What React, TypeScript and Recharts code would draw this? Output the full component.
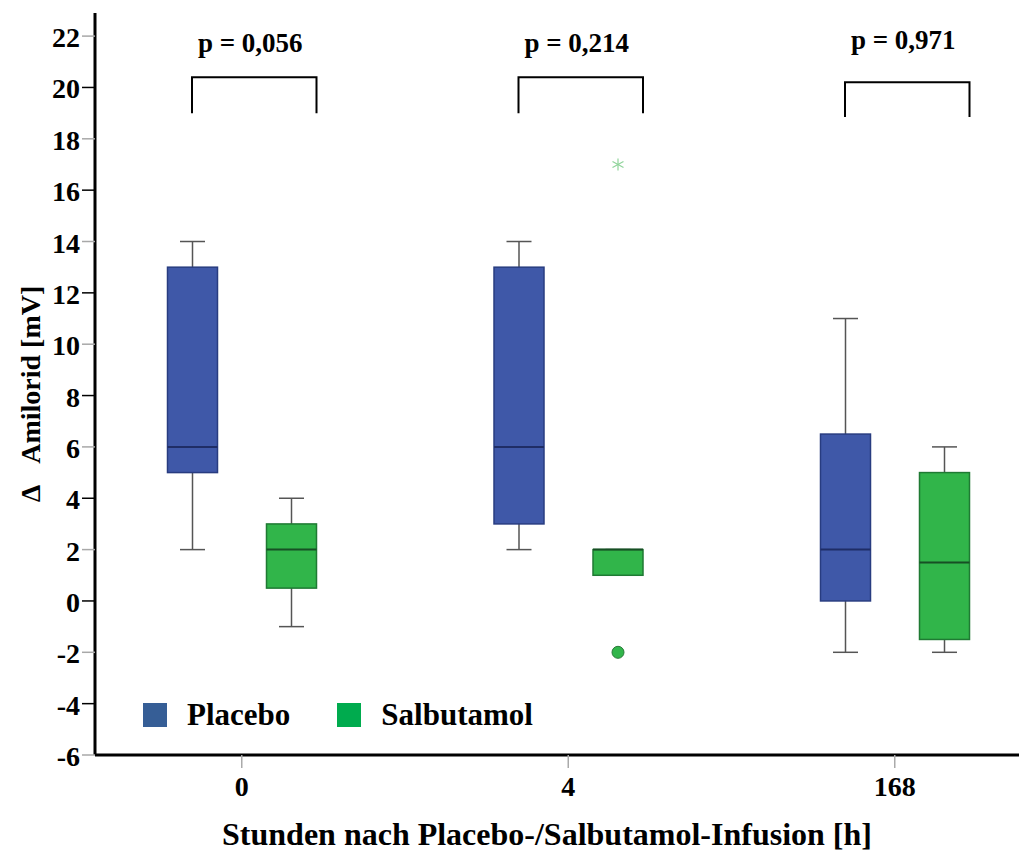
import { Bar, BarChart, Label, Legend, XAxis, YAxis } from "recharts";

// hours after infusion
const timepoints = ["0", "4", "168"];

// box-plot statistics per timepoint (delta amiloride, mV)
const placeboMin = [2, 2, -2];
const placeboQ1 = [5, 3, 0];
const placeboMedian = [6, 6, 2];
const placeboQ3 = [13, 13, 6.5];
const placeboMax = [14, 14, 11];

const salbutamolMin = [-1, 1, -2];
const salbutamolQ1 = [0.5, 1, -1.5];
const salbutamolMedian = [2, 2, 1.5];
const salbutamolQ3 = [3, 2, 5];
const salbutamolMax = [4, 2, 6];
const salbutamolOutliers = [[], [-2], []];
const salbutamolExtremes = [[], [17], []];

// significance brackets and their p labels (baseline height in mV units)
const pLabels = ["p = 0,056", "p = 0,214", "p = 0,971"];
const bracketLow = [19, 19, 18.85];
const bracketHigh = [20.4, 20.4, 20.2];
const pLabelBase = [21.38, 21.38, 21.5];

const yTicks = [-6, -4, -2, 0, 2, 4, 6, 8, 10, 12, 14, 16, 18, 20, 22];

const serif = '"Liberation Serif", "Times New Roman", serif';

const palette: Record<string, { fill: string; stroke: string; median: string; legend: string }> = {
  Placebo: { fill: "#3f58a8", stroke: "#283c80", median: "#1f2d66", legend: "#365e96" },
  Salbutamol: { fill: "#31b54a", stroke: "#1f7a33", median: "#174f24", legend: "#00ab4e" },
};

interface Stats {
  min: number;
  q1: number;
  median: number;
  q3: number;
  max: number;
  outliers: number[];
  extremes: number[];
}

const data = timepoints.map((time, i) => ({
  time,
  placebo: {
    min: placeboMin[i],
    q1: placeboQ1[i],
    median: placeboMedian[i],
    q3: placeboQ3[i],
    max: placeboMax[i],
    outliers: [],
    extremes: [],
  } as Stats,
  salbutamol: {
    min: salbutamolMin[i],
    q1: salbutamolQ1[i],
    median: salbutamolMedian[i],
    q3: salbutamolQ3[i],
    max: salbutamolMax[i],
    outliers: salbutamolOutliers[i],
    extremes: salbutamolExtremes[i],
  } as Stats,
  bracket: { low: bracketLow[i], high: bracketHigh[i], label: pLabelBase[i] },
  pLabel: pLabels[i],
}));

// full vertical extent of one box incl. outliers -> used as ranged bar value
function span(s: Stats): [number, number] {
  return [
    Math.min(s.min, ...s.outliers, ...s.extremes),
    Math.max(s.max, ...s.outliers, ...s.extremes),
  ];
}

function BoxShape(props: any) {
  const { x, y, width, height, payload, group } = props;
  const s: Stats = payload[group === "Placebo" ? "placebo" : "salbutamol"];
  const c = palette[group];
  const [lo, hi] = span(s);
  const top = Math.min(y, y + height);
  const bottom = Math.max(y, y + height);
  const py = (v: number) => bottom - ((v - lo) / (hi - lo)) * (bottom - top);
  const cx = x + width / 2;
  const cap = width / 4;

  return (
    <g>
      <line x1={cx} x2={cx} y1={py(s.max)} y2={py(s.min)} stroke="#555" strokeWidth={1.5} />
      <line x1={cx - cap} x2={cx + cap} y1={py(s.max)} y2={py(s.max)} stroke="#555" strokeWidth={1.5} />
      <line x1={cx - cap} x2={cx + cap} y1={py(s.min)} y2={py(s.min)} stroke="#555" strokeWidth={1.5} />
      <rect
        x={x}
        y={py(s.q3)}
        width={width}
        height={py(s.q1) - py(s.q3)}
        fill={c.fill}
        stroke={c.stroke}
        strokeWidth={1.5}
      />
      <line x1={x} x2={x + width} y1={py(s.median)} y2={py(s.median)} stroke={c.median} strokeWidth={2} />
      {s.outliers.map((v, k) => (
        <circle key={`o${k}`} cx={cx} cy={py(v)} r={6} fill={c.fill} stroke="#2a7a3a" strokeWidth={1} />
      ))}
      {s.extremes.map((v, k) => (
        <g key={`e${k}`} stroke="#8fd49a" strokeWidth={1.2}>
          <line x1={cx} x2={cx} y1={py(v) - 6} y2={py(v) + 6} />
          <line x1={cx - 5.5} x2={cx + 5.5} y1={py(v) - 3} y2={py(v) + 3} />
          <line x1={cx - 5.5} x2={cx + 5.5} y1={py(v) + 3} y2={py(v) - 3} />
        </g>
      ))}
    </g>
  );
}

// bar spans bracket foot .. label baseline; bracket top and text placed inside that range
function BracketShape(props: any) {
  const { x, y, width, height, payload } = props;
  const b = payload.bracket;
  const top = Math.min(y, y + height);
  const bottom = Math.max(y, y + height);
  const py = (v: number) => bottom - ((v - b.low) / (b.label - b.low)) * (bottom - top);
  return (
    <g>
      <path
        d={`M${x},${bottom} V${py(b.high)} H${x + width} V${bottom}`}
        fill="none"
        stroke="#000"
        strokeWidth={2}
      />
      <text
        x={x + width / 2 - 4}
        y={top}
        textAnchor="middle"
        fontFamily={serif}
        fontWeight={700}
        fontSize={27}
        fill="#000"
      >
        {payload.pLabel}
      </text>
    </g>
  );
}

function YTick(props: any) {
  const { x, y, payload } = props;
  const v = payload.value as number;
  return (
    <g>
      <line x1={x + 2} x2={x + 15} y1={y} y2={y} stroke={v % 4 === 0 ? "#000" : "#a8a8a8"} strokeWidth={1.5} />
      <text x={x} y={y} dy={11} textAnchor="end" fontFamily={serif} fontWeight={700} fontSize={28} fill="#000">
        {v}
      </text>
    </g>
  );
}

function YTitle(props: any) {
  const { viewBox } = props;
  const cx = viewBox.x + 22;
  const cy = viewBox.y + viewBox.height / 2 + 10;
  return (
    <text
      x={cx}
      y={cy}
      transform={`rotate(-90, ${cx}, ${cy})`}
      textAnchor="middle"
      dominantBaseline="central"
      fontFamily={serif}
      fontWeight={700}
      fontSize={28}
      fill="#000"
    >
      {"Δ\u00a0\u00a0\u00a0Amilorid [mV]"}
    </text>
  );
}

function XTitle(props: any) {
  const { viewBox } = props;
  return (
    <text
      x={viewBox.x + viewBox.width / 2 - 14}
      y={viewBox.y + 90}
      textAnchor="middle"
      fontFamily={serif}
      fontWeight={700}
      fontSize={32}
      fill="#000"
    >
      Stunden nach Placebo-/Salbutamol-Infusion [h]
    </text>
  );
}

function LegendContent(props: any) {
  const items = (props.payload ?? []).filter((e: any) => palette[e.value]);
  return (
    <div style={{ display: "flex", alignItems: "center", fontFamily: serif, fontWeight: 700, fontSize: 31 }}>
      {items.map((e: any) => (
        <div key={e.value} style={{ display: "flex", alignItems: "center", marginRight: 47 }}>
          <span
            style={{ width: 24, height: 24, background: palette[e.value].legend, marginRight: 20, display: "inline-block" }}
          />
          {e.value}
        </div>
      ))}
    </div>
  );
}

export default function App() {
  return (
    <div style={{ width: 1019, height: 844, background: "#fff" }}>
      <BarChart
        width={1019}
        height={844}
        data={data}
        margin={{ top: 5, right: 0, bottom: 0, left: 0 }}
        barGap={49}
      >
        <XAxis
          dataKey="time"
          height={97}
          padding={{ left: -16.5, right: -31 }}
          axisLine={{ stroke: "#000", strokeWidth: 3 }}
          tickLine={{ stroke: "#aaa", strokeWidth: 1.5 }}
          tickSize={13}
          tickMargin={8}
          tick={{ fill: "#000", fontSize: 28, fontWeight: 700, fontFamily: serif }}
        >
          <Label content={<XTitle />} />
        </XAxis>
        <XAxis xAxisId="br" dataKey="time" hide padding={{ left: -4, right: -43.5 }} />
        <YAxis
          width={87}
          domain={[-6, 22.9]}
          ticks={yTicks}
          interval={0}
          axisLine={{ stroke: "#000", strokeWidth: 3 }}
          tickLine={false}
          tickSize={13}
          tickMargin={2}
          tick={<YTick />}
        >
          <Label content={<YTitle />} />
        </YAxis>
        <Legend
          layout="horizontal"
          verticalAlign="middle"
          align="center"
          content={<LegendContent />}
          wrapperStyle={{ left: 135, top: 689, width: "auto" }}
        />
        <Bar
          name="Placebo"
          dataKey={(d: any) => span(d.placebo)}
          barSize={50}
          fill={palette.Placebo.legend}
          isAnimationActive={false}
          shape={(p: any) => <BoxShape {...p} group="Placebo" />}
        />
        <Bar
          name="Salbutamol"
          dataKey={(d: any) => span(d.salbutamol)}
          barSize={50}
          fill={palette.Salbutamol.legend}
          isAnimationActive={false}
          shape={(p: any) => <BoxShape {...p} group="Salbutamol" />}
        />
        <Bar
          xAxisId="br"
          dataKey={(d: any) => [d.bracket.low, d.bracket.label]}
          barSize={124.5}
          legendType="none"
          isAnimationActive={false}
          shape={(p: any) => <BracketShape {...p} />}
        />
      </BarChart>
    </div>
  );
}
